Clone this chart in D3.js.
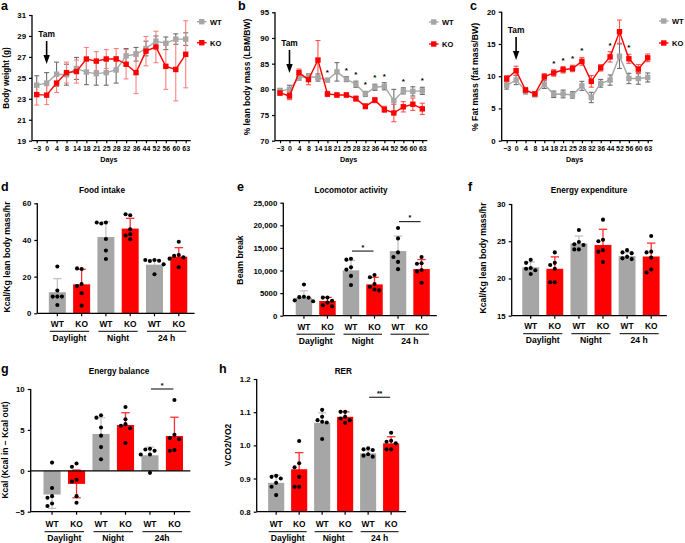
<!DOCTYPE html>
<html><head><meta charset="utf-8">
<script src="https://cdn.jsdelivr.net/npm/d3@7"></script>
<style>
body{margin:0;background:#fff}
svg{display:block}
text{font-family:"Liberation Sans",Arial,sans-serif;font-weight:bold;fill:#000}
</style>
</head><body>
<svg id="c" width="685" height="543"></svg>
<script>
// ---------- DATA ----------
const days = ["\u22123","0","4","8","14","18","21","25","28","32","36","44","52","56","60","63"];
const seriesNames = ["WT","KO"];

// a: body weight (g)
const bwWT   = [24.3,24.5,25.35,25.3,25.9,25.55,25.4,25.5,25.75,27.1,27.25,27.8,28.5,28.3,28.7,28.7];
const bwWTsd = [0.9,1.0,1.15,1.0,1.05,1.2,1.1,1.2,1.25,0.7,0.65,0.7,0.5,0.6,0.5,0.6];
const bwKO   = [23.4,23.35,24.5,25.5,25.6,26.8,26.6,26.8,26.8,26.3,25.5,27.55,27.95,26.1,25.8,27.25];
const bwKOsd = [1.0,0.9,0.9,1.0,1.1,1.1,0.9,0.9,1.0,1.4,2.0,1.4,1.5,2.2,3.0,3.2];

// b: % lean body mass
const lbmWT   = [79.7,80.0,82.3,82.5,82.3,81.8,83.4,82.0,81.0,79.1,80.4,80.6,77.8,79.7,79.6,79.7];
const lbmWTsd = [0.5,0.8,0.5,0.5,0.7,0.3,1.8,0.5,0.6,0.5,0.6,0.7,2.2,0.6,0.9,0.7];
const lbmKO   = [79.3,78.7,83.25,81.9,85.7,79.1,78.9,78.9,78.2,76.7,77.9,76.1,75.4,76.6,77.1,76.2];
const lbmKOsd = [0.5,0.7,0.7,1.0,3.8,0.5,0.4,0.4,0.5,0.5,0.5,0.6,1.7,1.0,1.2,1.1];
const lbmSig  = ["18","25","28","32","36","44","56","63"];

// c: % fat mass
const fatWT   = [8.6,9.4,7.75,7.2,8.7,7.2,7.25,7.1,8.5,6.7,8.9,9.4,13.1,9.65,9.65,9.8];
const fatWTsd = [0.6,0.7,0.5,0.4,0.6,0.5,0.6,0.5,0.7,0.8,0.6,0.8,1.9,0.8,0.9,0.7];
const fatKO   = [9.6,10.85,7.85,7.25,9.9,10.5,11.0,11.2,12.3,9.2,11.3,13.0,16.9,12.7,11.1,12.85];
const fatKOsd = [0.5,0.7,0.4,0.3,0.5,0.5,0.5,0.5,0.6,0.9,0.5,0.8,1.8,0.7,0.7,0.6];
const fatSig  = ["18","21","25","28","44","56"];

// bar panels: order WT-Day, KO-Day, WT-Night, KO-Night, WT-24h, KO-24h
const conds = ["WT","KO","WT","KO","WT","KO"];
const periods = ["Daylight","Night","24 h"];
const periodsG = ["Daylight","Night","24h"];

const foodMean = [11.5,15.8,41.6,46.2,26.5,30.9];
const foodSD   = [7.4,8.2,8.4,5.6,2.6,4.9];
const foodPts  = [[25.5,12.4,9.1,9.1,9.1,4.5],[24.2,24.5,16.0,14.9,10.9,4.2],[49.5,49.0,49.5,40.5,34.2,29.6],
                  [53.5,54.0,45.8,43.1,42.4,40.4],[29.1,28.5,28.7,29.1,26.7,21.3],[39.0,31.8,31.3,30.5,29.8,25.1]];

const locoMean = [4000,3250,10030,6930,14300,10320];
const locoSD   = [1500,800,2200,1550,3300,2100];
const locoPts  = [[6900,4200,4100,4000,3400,3200],[4000,4000,3300,2900,2300,2100],[12600,12400,10700,10200,8800,6800],
                  [9000,8500,7000,6400,5800,5600],[19400,17100,14000,13000,11900,10300],[13000,11600,11500,10100,9800,7300]];
const locoSig  = [{pair:2,v:14300,label:"*"},{pair:4,v:20800,label:"*"}];

const eeMean = [21.5,21.3,24.7,24.5,23.0,22.95];
const eeSD   = [0.7,1.6,1.0,2.1,0.5,1.8];
const eePts  = [[22.5,22.1,21.4,21.3,21.1,20.6],[23.5,22.1,21.8,21.3,19.5,19.5],[26.5,24.9,24.6,24.5,23.9,23.9],
                [27.9,25.2,25.0,23.8,23.6,22.2],[23.8,23.5,23.4,22.9,22.7,22.6],[25.7,23.6,23.5,22.8,21.2,20.8]];

const ebMean = [-2.9,-1.6,4.5,5.6,1.9,4.25];
const ebSD   = [1.7,1.7,2.0,1.5,1.0,2.3];
const ebPts  = [[1.0,-2.1,-3.1,-3.3,-4.0,-4.3],[0.9,0.5,-1.1,-1.3,-3.1,-3.9],[6.8,6.5,5.3,4.3,2.9,1.4],
                [7.8,6.3,5.7,5.5,5.2,3.4],[2.7,2.6,2.45,2.0,2.0,-0.25],[8.65,4.4,4.0,3.85,2.55,2.45]];
const ebSig  = [{pair:4,v:10,label:"*"}];

const rerMean = [0.887,0.928,1.068,1.086,0.976,1.006];
const rerSD   = [0.023,0.05,0.03,0.015,0.008,0.02];
const rerPts  = [[0.908,0.905,0.9,0.887,0.875,0.85],[1.013,0.946,0.934,0.905,0.875,0.875],[1.107,1.086,1.076,1.071,1.069,1.019],
                 [1.101,1.101,1.086,1.081,1.076,1.068],[0.991,0.988,0.986,0.973,0.969,0.966],[1.038,1.014,1.011,1.006,0.988,0.988]];
const rerSig  = [{pair:4,v:1.145,label:"**"}];

// ---------- DRAWING ----------
const svg = d3.select("#c");
const GRAY = "#a6a6a6", RED = "#ff0000";
const GRAYERR_LINE = "#6e6e6e";

function styleAxis(g, fs){
  g.attr("font-family", null).attr("font-size", fs);
  g.select(".domain").remove();
  g.selectAll(".tick line").attr("stroke","#000").attr("stroke-width",1.2);
}

function lineChart(cfg){
  const g = svg.append("g");
  const x = d3.scalePoint().domain(days).range([cfg.x0, cfg.x1]);
  const y = d3.scaleLinear().domain(cfg.yDomain).range([cfg.yBottom, cfg.yTop]);
  const ya = g.append("g").attr("transform",`translate(${cfg.axisX},0)`)
    .call(d3.axisLeft(y).tickValues(cfg.yTicks).tickSize(3).tickPadding(3));
  styleAxis(ya, 7.8);
  const xa = g.append("g").attr("transform",`translate(0,${cfg.yBottom})`)
    .call(d3.axisBottom(x).tickSize(2.5).tickPadding(2.5));
  styleAxis(xa, 7);
  g.append("line").attr("x1",cfg.axisX).attr("x2",cfg.axisX).attr("y1",cfg.yTop).attr("y2",cfg.yBottom)
    .attr("stroke","#000").attr("stroke-width",1.3);
  g.append("line").attr("x1",cfg.axisX).attr("x2",cfg.x1+5).attr("y1",cfg.yBottom).attr("y2",cfg.yBottom)
    .attr("stroke","#000").attr("stroke-width",1.3);
  g.append("text").attr("x",(cfg.axisX+cfg.x1)/2).attr("y",cfg.yBottom+21.5).attr("text-anchor","middle")
    .attr("font-size",7.2).text("Days");
  g.append("text").attr("transform",`translate(${cfg.ylabX},${cfg.ylabY}) rotate(-90)`).attr("text-anchor","middle")
    .attr("font-size",cfg.ylabFs).text(cfg.ylabel);

  const series = [
    {name:"WT", v:cfg.wt, sd:cfg.wtsd, color:GRAY, err:cfg.wtErr},
    {name:"KO", v:cfg.ko, sd:cfg.kosd, color:RED, err:cfg.koErr}
  ];
  series.forEach(s=>{
    const eg = g.append("g").attr("stroke",s.err).attr("stroke-width",1.1);
    days.forEach((d,i)=>{
      const cx = x(d), y1 = y(s.v[i]+s.sd[i]), y2 = y(s.v[i]-s.sd[i]);
      eg.append("line").attr("x1",cx).attr("x2",cx).attr("y1",y1).attr("y2",y2);
      eg.append("line").attr("x1",cx-2.5).attr("x2",cx+2.5).attr("y1",y1).attr("y2",y1);
      eg.append("line").attr("x1",cx-2.5).attr("x2",cx+2.5).attr("y1",y2).attr("y2",y2);
    });
  });
  series.forEach(s=>{
    g.append("path").datum(s.v).attr("fill","none").attr("stroke",s.color).attr("stroke-width",1.4)
      .attr("d", d3.line().x((v,i)=>x(days[i])).y(v=>y(v)));
    g.selectAll(null).data(s.v).enter().append("rect")
      .attr("x",(v,i)=>x(days[i])-2.7).attr("y",v=>y(v)-2.7).attr("width",5.4).attr("height",5.4).attr("fill",s.color);
  });
  // significance
  (cfg.sig||[]).forEach(d=>{
    const i = days.indexOf(d);
    const top = Math.max(cfg.wt[i]+cfg.wtsd[i], cfg.ko[i]+cfg.kosd[i]);
    g.append("text").attr("x",x(d)).attr("y",y(top)-4).attr("text-anchor","middle").attr("font-size",8).text("*");
  });
  // Tam arrow
  const ax = x("0");
  g.append("text").attr("x",ax).attr("y",cfg.tamY).attr("text-anchor","middle").attr("font-size",8.4).text("Tam");
  g.append("line").attr("x1",ax).attr("x2",ax).attr("y1",cfg.tamY+4).attr("y2",cfg.tamY+20)
    .attr("stroke","#000").attr("stroke-width",1.6);
  g.append("path").attr("d",`M${ax-3.2},${cfg.tamY+18} L${ax+3.2},${cfg.tamY+18} L${ax},${cfg.tamY+27} Z`).attr("fill","#000");
  // legend
  series.forEach((s,k)=>{
    const ly = cfg.legY[k];
    g.append("line").attr("x1",cfg.legX).attr("x2",cfg.legX+9.5).attr("y1",ly).attr("y2",ly)
      .attr("stroke",s.color).attr("stroke-width",1.4);
    g.append("rect").attr("x",cfg.legX+4.75-2.7).attr("y",ly-2.7).attr("width",5.4).attr("height",5.4).attr("fill",s.color);
    g.append("text").attr("x",cfg.legX+13).attr("y",ly+2.8).attr("font-size",7.5).text(s.name);
  });
  // panel letter
  g.append("text").attr("x",cfg.letter[1]).attr("y",cfg.letter[2]).attr("font-size",12.5).text(cfg.letter[0]);
}

function beeswarm(vals, cx, y, r){
  const placed = [];
  vals.forEach(v=>{
    const py = y(v);
    const offs = [0,-4.6,4.6,-9.2,9.2,-13.8,13.8];
    let chosen = offs[offs.length-1];
    for(const o of offs){
      const ok = placed.every(p=> Math.hypot(p[0]-(cx+o), p[1]-py) >= 2*r+0.5);
      if(ok){ chosen=o; break; }
    }
    placed.push([cx+chosen,py]);
  });
  return placed;
}

function barChart(cfg){
  const g = svg.append("g");
  const xb = d3.scaleBand().domain(d3.range(6)).range([cfg.c0-cfg.step/2, cfg.c0+cfg.step*5.5]).padding(0.3);
  const cx = i => xb(i)+xb.bandwidth()/2;
  const y = d3.scaleLinear().domain(cfg.yDomain).range([cfg.yBottom, cfg.yTop]);
  const xEnd = cfg.c0+cfg.step*5.5;
  const colors = i => i%2===0 ? GRAY : RED;
  const errColors = i => i%2===0 ? "#c4c4c4" : "#ff3030";

  // error bars (behind bars)
  cfg.mean.forEach((m,i)=>{
    const e = g.append("g").attr("stroke",errColors(i)).attr("stroke-width",1.3);
    const y1 = y(m+cfg.sd[i]), y2 = y(m-cfg.sd[i]);
    e.append("line").attr("x1",cx(i)).attr("x2",cx(i)).attr("y1",y1).attr("y2",y2);
    e.append("line").attr("x1",cx(i)-4.2).attr("x2",cx(i)+4.2).attr("y1",y1).attr("y2",y1);
    e.append("line").attr("x1",cx(i)-4.2).attr("x2",cx(i)+4.2).attr("y1",y2).attr("y2",y2);
  });
  // bars
  g.selectAll(null).data(cfg.mean).enter().append("rect")
    .attr("x",(m,i)=>xb(i)).attr("width",xb.bandwidth())
    .attr("y",m=>Math.min(y(m),y(cfg.base))).attr("height",m=>Math.abs(y(m)-y(cfg.base)))
    .attr("fill",(m,i)=>colors(i));
  // dots
  cfg.pts.forEach((arr,i)=>{
    beeswarm(arr, cx(i), y, 2.05).forEach(p=>{
      g.append("circle").attr("cx",p[0]).attr("cy",p[1]).attr("r",2.05).attr("fill","#000");
    });
  });
  // axes
  const ya = g.append("g").attr("transform",`translate(${cfg.axisX},0)`)
    .call(d3.axisLeft(y).tickValues(cfg.yTicks).tickFormat(cfg.fmt).tickSize(3).tickPadding(3));
  styleAxis(ya, 7.8);
  g.append("line").attr("x1",cfg.axisX).attr("x2",cfg.axisX).attr("y1",cfg.yTop).attr("y2",cfg.yBottom)
    .attr("stroke","#000").attr("stroke-width",1.3);
  g.append("line").attr("x1",cfg.axisX).attr("x2",xEnd).attr("y1",cfg.yBottom).attr("y2",cfg.yBottom)
    .attr("stroke","#000").attr("stroke-width",1.3);
  if(cfg.base !== cfg.yDomain[0]){
    g.append("line").attr("x1",cfg.axisX).attr("x2",xEnd).attr("y1",y(cfg.base)).attr("y2",y(cfg.base))
      .attr("stroke","#000").attr("stroke-width",1.3);
  }
  conds.forEach((c,i)=>{
    g.append("line").attr("x1",cx(i)).attr("x2",cx(i)).attr("y1",cfg.yBottom).attr("y2",cfg.yBottom+3)
      .attr("stroke","#000").attr("stroke-width",1.2);
    g.append("text").attr("x",cx(i)).attr("y",cfg.yBottom+cfg.condDy).attr("text-anchor","middle")
      .attr("font-size",8.4).text(c);
  });
  cfg.periods.forEach((p,k)=>{
    const a = cx(2*k)-7.5, b = cx(2*k+1)+7.5;
    g.append("line").attr("x1",a).attr("x2",b).attr("y1",cfg.yBottom+cfg.condDy+4.5).attr("y2",cfg.yBottom+cfg.condDy+4.5)
      .attr("stroke","#000").attr("stroke-width",1);
    g.append("text").attr("x",(a+b)/2).attr("y",cfg.yBottom+cfg.condDy+14).attr("text-anchor","middle")
      .attr("font-size",8.6).text(p);
  });
  // significance
  (cfg.sig||[]).forEach(s=>{
    const yy = y(s.v);
    g.append("line").attr("x1",cx(s.pair)+1).attr("x2",cx(s.pair+1)-1).attr("y1",yy).attr("y2",yy)
      .attr("stroke","#000").attr("stroke-width",1);
    g.append("text").attr("x",(cx(s.pair)+cx(s.pair+1))/2).attr("y",yy-1.5).attr("text-anchor","middle")
      .attr("font-size",7).text(s.label);
  });
  // title, y label, letter
  g.append("text").attr("x",cfg.titleX).attr("y",cfg.titleY).attr("text-anchor","middle").attr("font-size",8.2).text(cfg.title);
  g.append("text").attr("transform",`translate(${cfg.ylabX},${cfg.ylabY}) rotate(-90)`).attr("text-anchor","middle")
    .attr("font-size",cfg.ylabFs).text(cfg.ylabel);
  g.append("text").attr("x",cfg.letter[1]).attr("y",cfg.letter[2]).attr("font-size",12.5).text(cfg.letter[0]);
}

// ---- top row ----
lineChart({axisX:32, x0:36.7, x1:185.7, yTop:15, yBottom:140.7, yDomain:[19,31], yTicks:[19,21,23,25,27,29,31],
  wt:bwWT, wtsd:bwWTsd, ko:bwKO, kosd:bwKOsd, wtErr:GRAYERR_LINE, koErr:"#ff8080",
  ylabel:"Body weight (g)", ylabX:9, ylabY:78, ylabFs:8.2, tamY:37, legX:197, legY:[21.7,42.7], letter:["a",1,10]});
lineChart({axisX:275, x0:280, x1:422.3, yTop:12.3, yBottom:140.7, yDomain:[70,95], yTicks:[70,75,80,85,90,95],
  wt:lbmWT, wtsd:lbmWTsd, ko:lbmKO, kosd:lbmKOsd, wtErr:GRAYERR_LINE, koErr:"#ff5050", sig:lbmSig,
  ylabel:"% lean body mass (LBM/BW)", ylabX:250, ylabY:77, ylabFs:8.5, tamY:46, legX:429, legY:[22,44], letter:["b",238,10]});
lineChart({axisX:501.7, x0:506.7, x1:647.7, yTop:11.7, yBottom:140.7, yDomain:[0,20], yTicks:[0,5,10,15,20],
  wt:fatWT, wtsd:fatWTsd, ko:fatKO, kosd:fatKOsd, wtErr:GRAYERR_LINE, koErr:"#ff5050", sig:fatSig,
  ylabel:"% Fat mass (fat mass/BW)", ylabX:478, ylabY:77, ylabFs:8.7, tamY:33, legX:659, legY:[21,43], letter:["c",470,10]});

// ---- middle row ----
barChart({axisX:37.3, c0:54.3, step:25.5, yTop:203.3, yBottom:313.3, yDomain:[0,60], base:0, yTicks:[0,20,40,60], fmt:d3.format("d"),
  mean:foodMean, sd:foodSD, pts:foodPts, periods:periods, condDy:13.5,
  title:"Food intake", titleX:102, titleY:193, ylabel:"Kcal/Kg lean body mass/hr", ylabX:10, ylabY:257, ylabFs:8.7, letter:["d",1,191]});
barChart({axisX:283.3, c0:301, step:24.7, yTop:202.7, yBottom:315.7, yDomain:[0,25000], base:0,
  yTicks:[0,5000,10000,15000,20000,25000], fmt:d=> d<10000 ? String(d) : d3.format(",")(d),
  mean:locoMean, sd:locoSD, pts:locoPts, periods:periods, condDy:14, sig:locoSig,
  title:"Locomotor activity", titleX:351, titleY:192.5, ylabel:"Beam break", ylabX:243, ylabY:260, ylabFs:8.7, letter:["e",237,191]});
barChart({axisX:511.7, c0:527.7, step:25.3, yTop:204, yBottom:315.7, yDomain:[15,30], base:15, yTicks:[15,20,25,30], fmt:d3.format("d"),
  mean:eeMean, sd:eeSD, pts:eePts, periods:periods, condDy:13.5,
  title:"Energy expenditure", titleX:589, titleY:193, ylabel:"Kcal/Kg lean body mass/hr", ylabX:486, ylabY:258, ylabFs:8.7, letter:["f",468,191]});

// ---- bottom row ----
barChart({axisX:30.7, c0:49, step:25.7, yTop:389, yBottom:511.7, yDomain:[-5,10], base:0, yTicks:[-5,0,5,10], fmt:d3.format("d"),
  mean:ebMean, sd:ebSD, pts:ebPts, periods:periodsG, condDy:15.5, sig:ebSig,
  title:"Energy balance", titleX:119, titleY:374, ylabel:"Kcal (Kcal in \u2212 Kcal out)", ylabX:8, ylabY:450, ylabFs:8.5, letter:["g",1,373]});
barChart({axisX:256.7, c0:273.3, step:24.14, yTop:379, yBottom:511.7, yDomain:[0.8,1.2], base:0.8, yTicks:[0.8,0.9,1.0,1.1,1.2], fmt:d3.format(".1f"),
  mean:rerMean, sd:rerSD, pts:rerPts, periods:periods, condDy:15.5, sig:rerSig,
  title:"RER", titleX:343.3, titleY:374, ylabel:"VCO2/VO2", ylabX:231, ylabY:445, ylabFs:8.5, letter:["h",219,373]});
</script>
</body></html>
